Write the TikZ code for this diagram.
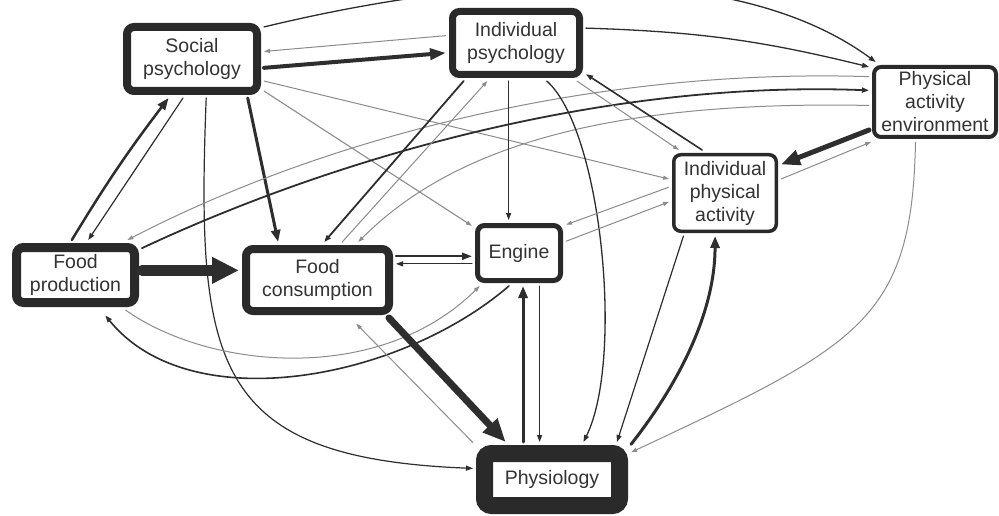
\documentclass[tikz,border=0pt]{standalone}
\usepackage{fontspec}
\setmainfont{Liberation Sans}
\usetikzlibrary{arrows.meta}
\definecolor{dk}{HTML}{2E2E2E}
\definecolor{gy}{HTML}{8C8C8C}
\definecolor{bx}{HTML}{2A2A2A}
\definecolor{tx}{HTML}{333333}
\begin{document}
\begin{tikzpicture}[x=1pt,y=-1pt,
  box/.style={draw=bx, fill=white, rounded corners=7pt, inner sep=0pt, align=center,
    text=tx, font=\fontsize{19.5}{23}\selectfont},
  dl/.style={draw=dk, line width=#1, line cap=round},
  gl/.style={draw=gy, line width=#1},
  arS/.style={-{Triangle[length=7pt,width=5pt]}},
  arG/.style={-{Triangle[length=6pt,width=4pt]}},
  arM/.style={-{Triangle[length=12pt,width=9pt]}},
  arL/.style={-{Triangle[length=16pt,width=11pt]}},
  arX/.style={-{Triangle[length=19pt,width=15pt]}},
  arXX/.style={-{Triangle[length=23pt,width=19pt]}},
  arXL/.style={-{Triangle[length=27pt,width=25pt]}}
]
\useasboundingbox (0,0) rectangle (999,516);
\fill[white] (0,0) rectangle (999,516);
\clip (0,0) rectangle (999,516);

% nodes
\node[box, line width=8pt, minimum width=130pt, minimum height=64pt, outer sep=7pt] (SP) at (192,59) {Social\\psychology};
\node[box, line width=7pt, minimum width=127pt, minimum height=63pt, outer sep=6.5pt] (IP) at (516,43) {Individual\\psychology};
\node[box, line width=4pt, minimum width=122pt, minimum height=70pt, outer sep=5pt] (PAE) at (935,102) {Physical\\activity\\environment};
\node[box, line width=3.5pt, minimum width=102.5pt, minimum height=76.5pt, outer sep=4.75pt] (IPA) at (725,193) {Individual\\physical\\activity};
\node[box, line width=5pt, minimum width=83pt, minimum height=55pt, outer sep=5.5pt] (EN) at (519,253) {Engine};
\node[box, line width=8pt, minimum width=143pt, minimum height=62pt, outer sep=7pt] (FC) at (317.5,280) {Food\\consumption};
\node[box, line width=9pt, minimum width=118pt, minimum height=55pt, outer sep=7.5pt] (FP) at (75.5,275) {Food\\production};
\node[box, line width=17pt, minimum width=135pt, minimum height=52pt, outer sep=11.5pt] (PH) at (552,479.5) {Physiology};

% connectors
\draw[dl=1.3, arS] (SP.24) .. controls (500,-30) and (740,-38) .. (PAE.146);
\draw[gl=1, arG] (IP.174) -- (SP.6);
\draw[dl=4, arL] (SP.353) -- (IP.188);
\draw[gl=1, arG] (SP.343) -- (IPA.166);
\draw[gl=1.1, arG] (SP.336) -- (EN.150);
\draw[dl=3, arM] (SP.325) -- (FC.136);
\draw[dl=1.2, arS] (SP.290) .. controls (196,365) and (212,458) .. (PH.172);
\draw[dl=2.5, arM] (FP.96) to[bend left=3] (SP.239);
\draw[dl=1.2, arS] (SP.257) -- (FP.70);
\draw[gl=1, arG] (PAE.159) .. controls (600,68) and (330,135) .. (FP.34);
\draw[dl=1.8, arS] (FP.22) .. controls (330,160) and (600,80) .. (PAE.170);
\draw[gl=1, arG] (PAE.183) .. controls (600,100) and (450,150) .. (FC.43);
\draw[dl=1.8, arS] (IP.216) -- (FC.80);
\draw[gl=1, arG] (FC.57) -- (IP.233);
\draw[dl=1.1, arS] (IP.259) -- (IP.259 |- EN.north);
\draw[dl=1.3, arS] (IP.309) .. controls (602,130) and (624,360) .. (PH.50);
\draw[gl=1, arG] (IP.328) -- (IPA.137);
\draw[dl=1.6, arS] (IPA.118) -- (IP.336);
\draw[dl=1.3, arS] (IP.12) to[bend left=6] (PAE.152);
\draw[gl=1, arG] (IPA.174) -- (EN.31);
\draw[gl=1, arG] (EN.14) -- (IPA.189);
\draw[dl=5, arX] (PAE.203) -- (IPA.27);
\draw[gl=1, arG] (IPA.14) -- (PAE.212);
\draw[gl=1, arG] (PAE.244) .. controls (912,320) and (860,345) .. (PH.19);
\draw[dl=1.6, arS, shorten >=7pt] (EN.253) .. controls (400,380) and (190,420) .. (FP.306);
\draw[gl=1, arG] (FP.325) .. controls (210,370) and (380,385) .. (EN.220);
\draw[dl=11, arXL] (FP.east |- FC.173) -- (FC.173);
\draw[dl=2.2, -{Triangle[length=10pt,width=7pt]}] (FC.east |- EN.184) -- (EN.184);
\draw[dl=1, arS] (EN.193) -- (FC.east |- EN.193);
\draw[dl=7, arXX] (FC.332) -- (PH.141);
\draw[gl=1, arG, shorten >=8pt] (PH.155) -- (FC.311);
\draw[dl=3, arM] (EN.277 |- PH.north) -- (EN.277);
\draw[dl=1, arS] (EN.302) -- (EN.302 |- PH.north);
\draw[dl=1.2, arS] (IPA.226) -- (PH.30);
\draw[dl=3, arM] (PH.24) .. controls (670,395) and (715,320) .. (IPA.257);
\end{tikzpicture}
\end{document}
